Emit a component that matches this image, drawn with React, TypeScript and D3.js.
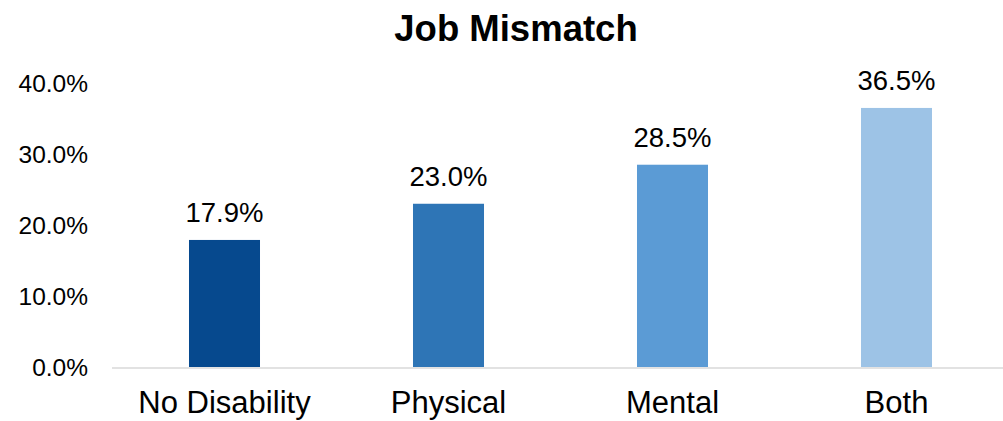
import React from "react";
import * as d3 from "d3";

const categories = ["No Disability", "Physical", "Mental", "Both"];
const values = [17.9, 23.0, 28.5, 36.5];
const colors = ["#06498E", "#2E75B6", "#5B9BD5", "#9DC3E6"];
const yTicks = [0, 10, 20, 30, 40];
const title = "Job Mismatch";

const W = 1003;
const H = 421;
const FONT = "'Liberation Sans', Arial, sans-serif";

export default function App() {
  const x = d3
    .scaleBand<string>()
    .domain(categories)
    .range([112.5, 1008.5])
    .paddingInner(0.683)
    .paddingOuter(0.683 / 2);
  const y = d3.scaleLinear().domain([0, 40]).range([367, 83.1]);
  const fmt = (v: number) => v.toFixed(1) + "%";

  return (
    <div style={{ position: "absolute", left: 0, top: 0 }}>
      <svg width={W} height={H} style={{ display: "block", background: "#fff" }} fontFamily={FONT}>
        <text x={516} y={41} textAnchor="middle" fontSize={36.5} fontWeight="bold" fill="#000">
          {title}
        </text>
        {yTicks.map((t) => (
          <text key={t} x={88} y={y(t)} dy="0.35em" textAnchor="end" fontSize={24.5} fill="#000">
            {fmt(t)}
          </text>
        ))}
        {categories.map((c, i) => (
          <g key={c}>
            <rect
              x={x(c)}
              y={y(values[i])}
              width={x.bandwidth()}
              height={y(0) - y(values[i])}
              fill={colors[i]}
            />
            <text
              x={(x(c) as number) + x.bandwidth() / 2}
              y={y(values[i]) - 18}
              textAnchor="middle"
              fontSize={27.5}
              fill="#000"
            >
              {fmt(values[i])}
            </text>
            <text
              x={(x(c) as number) + x.bandwidth() / 2}
              y={413}
              textAnchor="middle"
              fontSize={31}
              fill="#000"
            >
              {c}
            </text>
          </g>
        ))}
        <line x1={112} x2={1003} y1={368} y2={368} stroke="#D9D9D9" strokeWidth={1.5} />
      </svg>
    </div>
  );
}
